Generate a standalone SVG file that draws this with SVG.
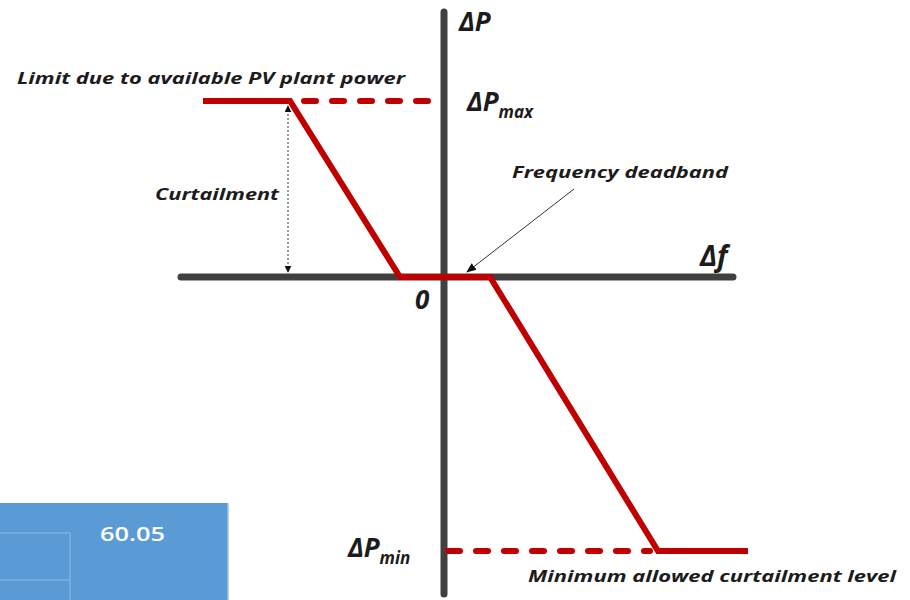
<svg xmlns="http://www.w3.org/2000/svg" width="910" height="600" viewBox="0 0 910 600">
<style>
.axis{stroke:#404040;stroke-width:7;stroke-linecap:round;fill:none}
.curve{stroke:#c00000;stroke-width:6;fill:none;stroke-linejoin:miter}
.dash{stroke:#c00000;stroke-width:6;fill:none;stroke-dasharray:12 16;stroke-linecap:round}
.lbl{font-family:"Open Sans","Liberation Sans",Arial,sans-serif;font-weight:bold;font-style:italic;fill:#1c1c1c}
.thin{stroke:#333;stroke-width:1;fill:none}
</style>
<defs>
<marker id="ah" viewBox="0 0 10 10" refX="9" refY="5" markerWidth="7" markerHeight="7" orient="auto-start-reverse" markerUnits="userSpaceOnUse">
<path d="M0,0 L10,5 L0,10 z" fill="#111"/>
</marker>
<marker id="ah2" viewBox="0 0 10 10" refX="9" refY="5" markerWidth="10" markerHeight="10" orient="auto" markerUnits="userSpaceOnUse">
<path d="M0,1 L10,5 L0,9 z" fill="#111"/>
</marker>
</defs>
<rect width="910" height="600" fill="#fff"/>
<g id="table">
<rect x="0" y="503" width="228" height="97" fill="#5b9bd5"/>
<path d="M0 533 H70 V600 M0 580 H70" stroke="#7fb0e0" stroke-width="1.5" fill="none"/>
<line x1="228" y1="503" x2="228" y2="600" stroke="#9cc3ea" stroke-width="1.5"/>
<text x="100" y="541" font-family="Open Sans,Liberation Sans,Arial,sans-serif" font-size="20" font-weight="600" fill="#fff" textLength="65" lengthAdjust="spacingAndGlyphs">60.05</text>
</g>
<g id="axes">
<line class="axis" x1="444" y1="12" x2="444" y2="594"/>
<line class="axis" x1="181" y1="277" x2="733" y2="277"/>
</g>
<g id="curve">
<polyline class="curve" points="203,101 290,101 400,277 490,277 658,551 748,551"/>
<line class="dash" x1="304" y1="101" x2="444" y2="101"/>
<line class="dash" x1="448" y1="551" x2="650" y2="551"/>
</g>
<g id="connectors">
<line class="thin" x1="288" y1="106" x2="288" y2="272" stroke-dasharray="2 2" marker-start="url(#ah)" marker-end="url(#ah)"/>
<line class="thin" x1="574" y1="189" x2="467" y2="272" stroke="#555" marker-end="url(#ah2)"/>
</g>
<g id="labels">
<text class="lbl" x="17" y="84" font-size="16" textLength="388" lengthAdjust="spacingAndGlyphs">Limit due to available PV plant power</text>
<text class="lbl" x="155" y="200" font-size="16" textLength="124" lengthAdjust="spacingAndGlyphs">Curtailment</text>
<text class="lbl" x="512" y="178" font-size="16" textLength="216" lengthAdjust="spacingAndGlyphs">Frequency deadband</text>
<text class="lbl" x="528" y="582" font-size="16" textLength="368" lengthAdjust="spacingAndGlyphs">Minimum allowed curtailment level</text>
<text class="lbl" x="459" y="31" font-size="26">ΔP</text>
<text class="lbl" x="467" y="111" font-size="26">ΔP<tspan font-size="17" dy="7">max</tspan></text>
<text class="lbl" x="348" y="557" font-size="26">ΔP<tspan font-size="17" dy="7">min</tspan></text>
<text class="lbl" x="700" y="266" font-size="28">Δf</text>
<text class="lbl" x="415" y="309" font-size="26">0</text>
</g>
</svg>
